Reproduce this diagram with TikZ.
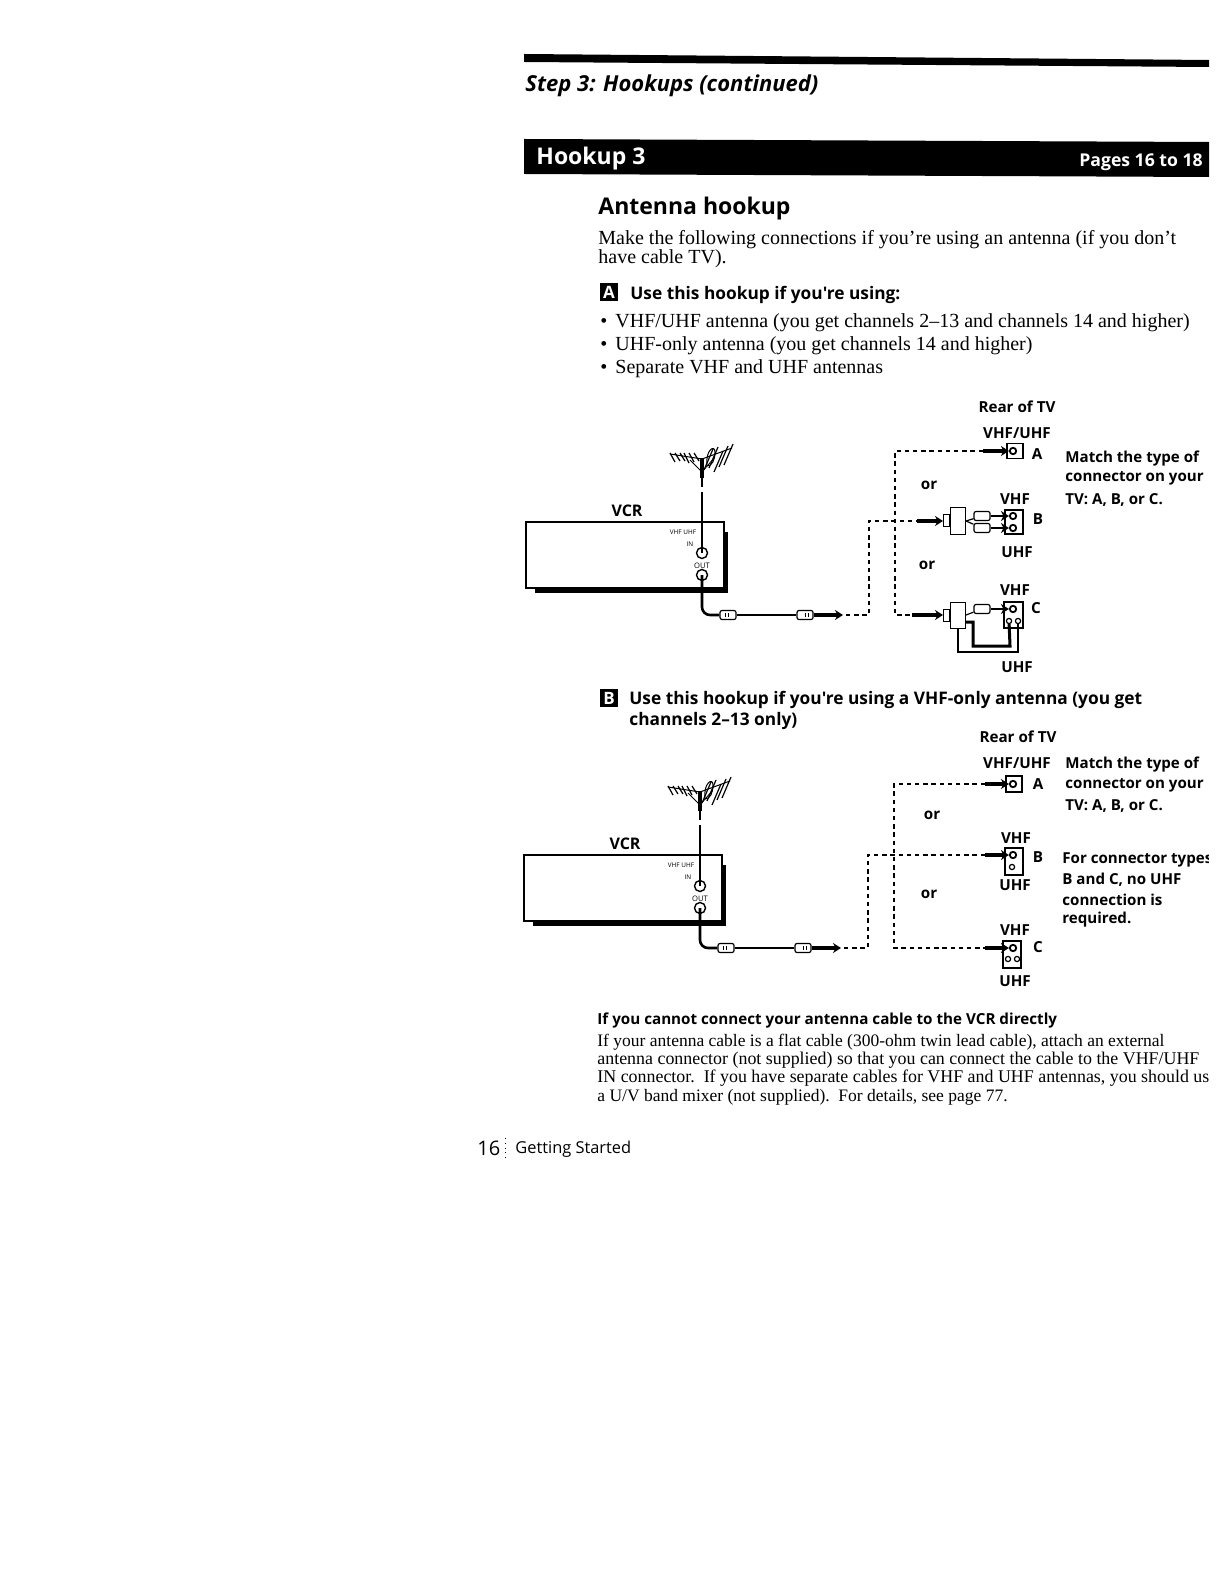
\documentclass[tikz,border=0pt]{standalone}
\usepackage{fontspec}
\setmainfont{Liberation Serif}
\newfontfamily\labelfont{Open Sans}
\usetikzlibrary{arrows.meta,positioning}
\tikzset{
  txt/.style={anchor=west,inner sep=0pt,align=left,yshift=-1pt},
  body text/.style={txt,font=\fontsize{10}{11}\selectfont},
  small text/.style={txt,font=\fontsize{8.75}{10}\selectfont},
  wide text/.style={txt,font=\fontsize{8.95}{10}\selectfont},
  sans head/.style={txt,font=\labelfont\bfseries\fontsize{8.65}{11}\selectfont},
  tv label/.style={inner sep=0pt,font=\labelfont\fontsize{7.6}{9}\selectfont\bfseries},
  note text/.style={txt,yshift=.2pt,font=\labelfont\fontsize{7.55}{10}\selectfont\bfseries},
  letter box/.style={fill=black,text=white,inner sep=0pt,minimum size=9pt,font=\labelfont\bfseries\fontsize{8.5}{8}\selectfont},
  panel/.style={draw,line width=.7pt,fill=white,inner sep=0pt},
  jack/.style={circle,draw,line width=.9pt,fill=white,inner sep=0pt,minimum size=3.2pt},
  small jack/.style={jack,line width=.6pt,minimum size=2.6pt},
  vcr jack/.style={jack,line width=.7pt,minimum size=5.5pt},
  plug/.style={draw,line width=.6pt,rounded corners=1pt,fill=white,inner sep=0pt,minimum width=8pt,minimum height=4.5pt},
  splitter/.style={draw,line width=.5pt,fill=white,inner sep=0pt,minimum width=7.5pt,minimum height=13pt},
  stub/.style={draw,line width=.5pt,fill=white,inner sep=0pt,minimum width=3pt,minimum height=6pt},
  feed/.style={line width=.6pt,dash pattern=on 2.2pt off 1.9pt},
  push/.style={line width=1.7pt,-{Stealth[length=4pt,width=5pt]}},
  lead/.style={line width=1.3pt,rounded corners=4pt},
  thin lead/.style={line width=.6pt},
  vcr unit/.pic={
    \fill (-167,10) rectangle (26,71);
    \node[panel,line width=.6pt,minimum width=99pt,minimum height=33pt] (-box) at (-77,33) {};
    \node[inner sep=0pt,font=\labelfont\fontsize{8}{9}\selectfont\bfseries] (-name) at (-75,-11) {VCR};
    \node[inner sep=0pt,font=\labelfont\fontsize{3.2}{3}\selectfont] (-bands) at (-19,10) {VHF UHF};
    \node[inner sep=0pt,font=\labelfont\fontsize{3.2}{3}\selectfont] (-intext) at (-12,22) {IN};
    \node[inner sep=0pt,font=\labelfont\fontsize{3.8}{4}\selectfont] (-outtext) at (0,44) {OUT};
    % antenna
    \draw[line width=1.8pt] (0,-64) -- (0,-44);
    \draw[line width=.8pt] (0,-44) -- (0,-35);
    \draw[line width=.5pt] (-32,-68) -- (0,-63) -- (30,-74);
    \foreach \ax/\ah in {-32/9,-27/8,-22/8,-18/10,-13/9,-8/8}
      \draw[line width=.6pt] (\ax,-69) -- (\ax+5,-69+\ah);
    \foreach \ax/\ay in {2/-52,7/-54,12/-50,17/-55,22/-57}
      \draw[line width=.6pt] (\ax,\ay) -- (\ax+9,\ay-21);
    \draw[line width=.5pt] (5,-56) .. controls (3,-72) and (13,-78) .. (13,-70) .. controls (13,-62) and (10,-56) .. (5,-56);
    \draw[line width=.4pt] (-12,-62) -- (0,-50) -- (12,-64);
    % sockets and cable
    \node[vcr jack] (-in) at (0,31) {};
    \node[vcr jack] (-out) at (0,53) {};
    \coordinate (-top) at (0,-30);
    \draw[line width=1.2pt] (-top) -- (-in.center);
    \node[plug] (-plugl) at (26,93) {};
    \node[plug] (-plugr) at (103,93) {};
    \draw[lead] (-out.center) |- (-plugl);
    \draw[thin lead] (-plugl) -- (-plugr);
    \draw[line width=.5pt] (23,91) -- (23,95) (26,91) -- (26,95) (106,91) -- (106,95) (103,91) -- (103,95);
    \coordinate (-tail) at (-plugr.east);
    \coordinate (-head) at (141,93);
    \draw[push] (-tail) -- (-head);
    \coordinate (-tip) at (144,93);
  },
}
\begin{document}
\begin{tikzpicture}[x=.5pt,y=-.5pt]
  \useasboundingbox (0,0) rectangle (1224,1582);
  % page header
  \fill (524,54) -- (1209,60) -- (1209,67) -- (524,62) -- cycle;
  \node[txt,font=\labelfont\bfseries\itshape\fontsize{11}{12}\selectfont] (step) at (525,84) {Step 3: Hookups (continued)};
  \fill (524,139) -- (1209,142) -- (1209,177) -- (524,174) -- cycle;
  \node[txt,text=white,font=\labelfont\bfseries\fontsize{11.5}{12}\selectfont] (hookup) at (536,157) {Hookup 3};
  \node[txt,anchor=east,text=white,font=\labelfont\bfseries\fontsize{8.8}{10}\selectfont] (pages) at (1203,160) {Pages 16 to 18};

  \node[txt,font=\labelfont\bfseries\fontsize{11.5}{13}\selectfont] (title) at (598,207) {Antenna hookup};
  \node[body text] (intro1) at (598,238) {Make the following connections if you're using an antenna (if you don't};
  \node[body text] (intro2) at (598,257) {have cable TV).};

  \node[letter box] (marka) at (609,292) {A};
  \node[sans head] (heada) at (630,293) {Use this hookup if you're using:};
  \node[body text] (bul1) at (600,321) {\textbullet};
  \node[body text] (bul2) at (600,344) {\textbullet};
  \node[body text] (bul3) at (600,367) {\textbullet};
  \node[body text] (item1) at (615,321) {VHF/UHF antenna (you get channels 2--13 and channels 14 and higher)};
  \node[body text] (item2) at (615,344) {UHF-only antenna (you get channels 14 and higher)};
  \node[body text] (item3) at (615,367) {Separate VHF and UHF antennas};

  % first hookup
  \pic (vcra) at (702,522) {vcr unit};
  \node[tv label] (reara) at (1017,407) {Rear of TV};
  \node[tv label] (banda) at (1017,433) {VHF/UHF};
  \node[note text] (matcha1) at (1065,457) {Match the type of};
  \node[note text] (matcha2) at (1065,477) {connector on your};
  \node[note text] (matcha3) at (1065,498) {TV: A, B, or C.};
  \node[tv label] (ora1) at (929,485) {or};
  \node[tv label] (ora2) at (927,565) {or};

  \node[panel,minimum width=8pt,minimum height=7.5pt] (panelaa) at (1015,451) {};
  \node[jack] (jackaa) at (1013,451) {};
  \node[tv label] (letteraa) at (1037,454) {A};
  \coordinate (tailaa) at (983,451);
  \draw[push] (tailaa) -- (jackaa);

  \node[panel,minimum width=9pt,minimum height=12pt] (panelab) at (1014,522) {};
  \node[jack] (jackab1) at (1013,516) {};
  \node[jack] (jackab2) at (1013,528) {};
  \node[splitter] (splitab) at (958,521) {};
  \node[stub,left=0pt of splitab] (stubab) {};
  \node[plug] (plugab1) at (982,516) {};
  \node[plug] (plugab2) at (982,528) {};
  \draw[thin lead] (splitab.east) -- (plugab1) (splitab.east) -- (plugab2);
  \draw[push,line width=1.3pt] (plugab1) -- (jackab1);
  \draw[push,line width=1.3pt] (plugab2) -- (jackab2);
  \coordinate (tailab) at (917,521);
  \draw[push] (tailab) -- (stubab);
  \node[tv label] (vhfab) at (1015,499) {VHF};
  \node[tv label] (uhfab) at (1017,552) {UHF};
  \node[tv label] (letterab) at (1038,519) {B};

  \node[panel,minimum width=9.5pt,minimum height=13pt] (panelac) at (1013.5,615) {};
  \node[jack] (jackac) at (1013,609) {};
  \node[small jack] (jackac1) at (1009,621) {};
  \node[small jack] (jackac2) at (1018,621) {};
  \node[splitter] (splitac) at (958,615) {};
  \node[stub,left=0pt of splitac] (stubac) {};
  \node[plug] (plugac) at (982,609) {};
  \draw[thin lead] (splitac.east) -- (plugac);
  \draw[push,line width=1.3pt] (plugac) -- (jackac);
  \coordinate (tailac) at (912,615);
  \draw[push] (tailac) -- (stubac);
  \draw[line width=.7pt] (splitac.south) |- (1018,652) -- (jackac2);
  \draw[line width=1.5pt] (965,622) -- (973,622) -- (973,646) -- (1010,646) -- (jackac1);
  \node[tv label] (vhfac) at (1015,590) {VHF};
  \node[tv label] (uhfac) at (1017,667) {UHF};
  \node[tv label] (letterac) at (1036,608) {C};

  \coordinate (risea) at (869,521);
  \coordinate (forka) at (895,451);
  \draw[feed] (vcra-tip) -| (risea) -- (tailab);
  \draw[feed] (tailaa) -- (forka) |- (tailac);

  % second hookup
  \node[letter box] (markb) at (609,698) {B};
  \node[sans head] (headb1) at (629,698) {Use this hookup if you're using a VHF-only antenna (you get};
  \node[sans head] (headb2) at (629,719) {channels 2–13 only)};
  \pic (vcrb) at (700,855) {vcr unit};
  \node[tv label] (rearb) at (1018,737) {Rear of TV};
  \node[tv label] (bandb) at (1017,763) {VHF/UHF};
  \node[note text] (matchb1) at (1065,763) {Match the type of};
  \node[note text] (matchb2) at (1065,784) {connector on your};
  \node[note text] (matchb3) at (1065,804) {TV: A, B, or C.};
  \begin{scope}
    \clip (1040,840) rectangle (1208,930);
    \node[note text] (fortype1) at (1062,858) {For connector types};
  \end{scope}
  \node[note text] (fortype2) at (1062,878) {B and C, no UHF};
  \node[note text] (fortype3) at (1062,898) {connection is};
  \node[note text] (fortype4) at (1062,918) {required.};
  \node[tv label] (orb1) at (932,815) {or};
  \node[tv label] (orb2) at (929,894) {or};

  \node[panel,minimum width=8pt,minimum height=8pt] (panelba) at (1014,784) {};
  \node[jack] (jackba) at (1013,784) {};
  \node[tv label] (letterba) at (1038,784) {A};
  \coordinate (tailba) at (985,784);
  \draw[push] (tailba) -- (jackba);

  \node[panel,minimum width=9pt,minimum height=13.5pt] (panelbb) at (1014,861.5) {};
  \node[jack] (jackbb1) at (1013,855) {};
  \node[small jack] (jackbb2) at (1012,867) {};
  \coordinate (tailbb) at (985,855);
  \draw[push] (tailbb) -- (jackbb1);
  \node[tv label] (vhfbb) at (1016,838) {VHF};
  \node[tv label] (uhfbb) at (1015,885) {UHF};
  \node[tv label] (letterbb) at (1038,857) {B};

  \node[panel,minimum width=9pt,minimum height=13.5pt] (panelbc) at (1012,954.5) {};
  \node[jack] (jackbc) at (1013,948) {};
  \node[small jack] (jackbc1) at (1008,959) {};
  \node[small jack] (jackbc2) at (1017,959) {};
  \coordinate (tailbc) at (985,948);
  \draw[push] (tailbc) -- (jackbc);
  \node[tv label] (vhfbc) at (1015,930) {VHF};
  \node[tv label] (uhfbc) at (1015,981) {UHF};
  \node[tv label] (letterbc) at (1038,947) {C};

  \coordinate (riseb) at (868,855);
  \coordinate (forkb) at (894,784);
  \draw[feed] (vcrb-tip) -| (riseb) -- (tailbb);
  \draw[feed] (tailba) -- (forkb) |- (tailbc);

  % foot of the page
  \node[txt,font=\labelfont\bfseries\fontsize{7.6}{10}\selectfont] (cannot) at (597,1019) {If you cannot connect your antenna cable to the VCR directly};
  \node[small text] (foot1) at (597,1040) {If your antenna cable is a flat cable (300-ohm twin lead cable), attach an external};
  \node[wide text] (foot2) at (597,1058) {antenna connector (not supplied) so that you can connect the cable to the VHF/UHF};
  \begin{scope}
    \clip (590,1065) rectangle (1208,1087);
    \node[wide text] (foot3) at (597,1076) {IN connector.\ \ If you have separate cables for VHF and UHF antennas, you should use};
  \end{scope}
  \node[small text] (foot4) at (597,1095) {a U/V band mixer (not supplied).\ \ For details, see page 77.};
  \node[txt,font=\labelfont\fontsize{10}{12}\selectfont] (pageno) at (477,1146) {16};
  \draw[line width=.4pt,dotted] (505,1138) -- (505,1160);
  \node[txt,font=\labelfont\fontsize{8.2}{10}\selectfont] (chapter) at (515,1147) {Getting Started};
\end{tikzpicture}
\end{document}
